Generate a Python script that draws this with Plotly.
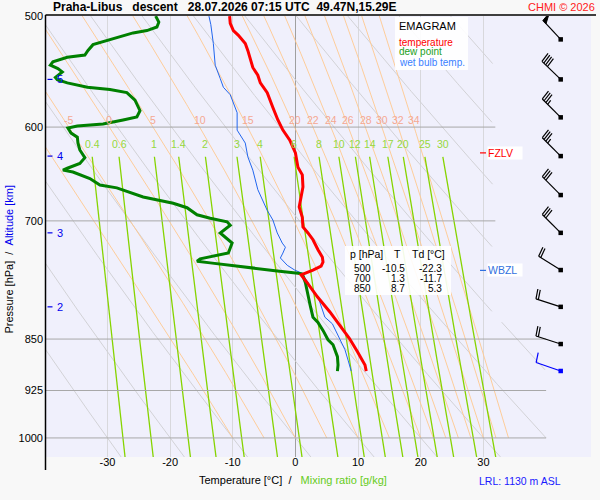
import numpy as np
import plotly.graph_objects as go

# ---------------- data ----------------
temp_p = [500, 506, 512, 516, 523, 529, 544, 551, 558, 567, 581, 593, 603, 613, 626, 641, 649, 662, 673, 684,
          696, 707, 714, 722, 734, 743, 749, 754, 759, 763, 765, 775, 793, 813, 831, 849, 868, 887, 896]
temp_t = [-10.5, -10.4, -9.9, -9.1, -8.0, -7.6, -6.8, -6.0, -5.6, -4.5, -3.6, -2.8, -2.0, -0.9, 0.0, 0.4, 1.1, 1.2, 0.9, 0.6,
          1.1, 1.2, 2.0, 2.8, 3.6, 4.3, 4.4, 4.1, 2.8, 1.5, 0.9, 1.9, 3.5, 5.5, 7.1, 8.6, 9.9, 11.1, 11.3]

dew_p = [500, 505, 509, 512, 514, 518, 522, 524, 529, 533, 535, 539, 542, 545, 548, 553, 555, 558, 562, 564,
         567, 574, 584, 590, 593, 597, 599, 601, 606, 610, 616, 623, 631, 637, 642, 644, 646, 653, 660, 663,
         673, 680, 685, 693, 697, 701, 705, 714, 726, 738, 745, 748, 750, 755, 760, 763, 764, 775, 788, 806,
         820, 827, 838, 851, 858, 875, 887, 896]
dew_t = [-22.3, -21.8, -22.1, -23.7, -25.9, -28.5, -30.7, -32.3, -33.1, -33.6, -36.4, -38.7, -39.1, -37.9, -37.2, -38.3, -38.0, -36.4, -33.2, -29.6,
         -26.9, -25.6, -24.8, -25.3, -27.5, -30.7, -34.8, -36.3, -35.8, -34.8, -34.7, -34.4, -33.6, -34.4, -36.4, -37.1, -35.5, -32.8, -31.2, -28.5,
         -24.3, -19.5, -17.3, -15.7, -13.6, -10.9, -10.4, -12.0, -10.1, -10.7, -15.2, -15.7, -13.6, -7.7, -2.9, 0.4, 1.1, 1.6, 1.9, 2.4,
         2.8, 3.6, 4.4, 5.2, 6.0, 6.7, 6.8, 6.7]

wb_p = [500, 507, 523, 542, 554, 562, 569, 577, 586, 603, 616, 630, 644, 665, 688, 699, 714, 726, 731, 738,
        744, 753, 759, 763, 780, 793, 820, 829, 851, 865, 880, 896]
wb_t = [-13.8, -13.5, -13.1, -12.8, -12.0, -11.5, -10.4, -9.9, -9.3, -9.3, -8.0, -7.6, -6.8, -6.0, -4.5, -3.6, -2.9, -2.1, -1.6, -2.0,
        -2.4, -1.3, -0.1, 1.1, 2.4, 3.6, 4.7, 5.9, 7.1, 7.9, 8.4, 8.9]

table_p = [500, 700, 850]
table_t = [-10.5, 1.3, 8.7]
table_td = [-22.3, -11.7, 5.3]

wind_p = [519.5, 554.8, 590.5, 629.3, 670.9, 713.9, 758.9, 806.2, 857.0, 895.8]
wind_dir = [317, 314, 315, 315, 315, 315, 302, 288, 288, 289]
wind_kt = [50, 40, 35, 35, 30, 30, 20, 20, 20, 10]

alt_km = [2, 3, 4, 5]
alt_p = [806.2, 713.9, 629.3, 554.8]

p_ticks = [500, 600, 700, 850, 925, 1000]
t_ticks = [-30, -20, -10, 0, 10, 20, 30]
theta_dry = [-30, -20, -10, 0, 10, 20, 30, 40, 50, 60, 70, 80, 90]
theta_w = [-10, -5, 0, 5, 10, 15, 20, 22, 24, 26, 28, 30, 32, 34]
mix_ratio = [0.4, 0.6, 1, 1.4, 2, 3, 4, 6, 8, 10, 12, 14, 17, 20, 25, 30]
mix_labels = ["0.4", "0.6", "1", "1.4", "2", "3", "4", "6", "8", "10", "12", "14", "17", "20", "25", "30"]
lrl_m = 1130

title_txt = "Praha-Libus   descent   28.07.2026 07:15 UTC  49.47N,15.29E"

# ---------------- layout geometry ----------------
W, H = 600, 500
ML, MR, MT, MB = 46, 9, 16, 43
PW, PH = W - ML - MR, H - MT - MB
P_TOP, P_BOT = 499.9, 1031.8
X_MIN = -39.8
PX_PER_DEG = 6.267
X_MAX = X_MIN + PW / PX_PER_DEG
PX_PER_LN = PH / np.log(P_BOT / P_TOP)
FONT = "Liberation Sans, Arial, sans-serif"


def XP(px):
    return (px - ML) / PW


def YP(py):
    return (H - MB - py) / PH


def t_limit(p):
    return np.where(p < 825, 31.5, 40.0)


def es_hpa(tc):
    return 6.112 * np.exp(17.67 * tc / (tc + 243.5))


def td_from_w(w, p):
    e = w * p / (622.0 + w)
    a = np.log(e / 6.112)
    return 243.5 * a / (17.67 - a)


def moist_dTdp(Tk, p):
    tc = Tk - 273.15
    es = es_hpa(tc)
    rs = 0.622 * es / (p - es)
    Lv, Rd, cp = 2.501e6, 287.04, 1005.7
    num = Rd * Tk + Lv * rs
    den = cp + Lv * Lv * rs * 0.622 / (Rd * Tk * Tk)
    return num / (den * p)


def moist_adiabat(tw):
    ps = np.arange(1000.0, 494.0, -2.0)
    Ts = [tw + 273.15]
    T = tw + 273.15
    for i in range(len(ps) - 1):
        p, h = ps[i], ps[i + 1] - ps[i]
        k1 = moist_dTdp(T, p)
        k2 = moist_dTdp(T + 0.5 * h * k1, p + 0.5 * h)
        k3 = moist_dTdp(T + 0.5 * h * k2, p + 0.5 * h)
        k4 = moist_dTdp(T + h * k3, p + h)
        T = T + h * (k1 + 2 * k2 + 2 * k3 + k4) / 6
        Ts.append(T)
    return ps, np.array(Ts) - 273.15


def clipped(x, p):
    x = np.array(x, dtype=float)
    ok = x <= t_limit(p)
    return [float(v) if o else None for v, o in zip(x, ok)], [float(v) for v in p]


fig = go.Figure()

# dry adiabats (grey)
pd_ = np.linspace(495, 1040, 300)
for th in theta_dry:
    t = (th + 273.15) * (pd_ / 1000.0) ** 0.2857 - 273.15
    xs, ys = clipped(t, pd_)
    fig.add_trace(go.Scatter(x=xs, y=ys, mode="lines", line=dict(color="#d2d2d6", width=1),
                             hoverinfo="skip", connectgaps=False))

# saturated adiabats (orange)
moist_lab = []
for tw in theta_w:
    ps, ts = moist_adiabat(tw)
    xs, ys = clipped(ts, ps)
    fig.add_trace(go.Scatter(x=xs, y=ys, mode="lines", line=dict(color="#ffc88e", width=0.9),
                             hoverinfo="skip", connectgaps=False))
    t600 = float(np.interp(600, ps[::-1], ts[::-1]))
    if X_MIN + 2 < t600 < 31:
        moist_lab.append((tw, t600))

# mixing ratio lines (green)
pm = np.linspace(630, 1040, 120)
mix_top = []
for w in mix_ratio:
    t = td_from_w(w, pm)
    fig.add_trace(go.Scatter(x=t, y=pm, mode="lines", line=dict(color="#86d400", width=1.3),
                             hoverinfo="skip"))
    mix_top.append(float(td_from_w(w, 630.0)))

# pressure lines
for p in p_ticks[1:]:
    xend = 31.9 if p < 825 else 40.0
    fig.add_trace(go.Scatter(x=[X_MIN, xend], y=[p, p], mode="lines",
                             line=dict(color="#a8a8a8", width=1), hoverinfo="skip"))

# profiles
fig.add_trace(go.Scatter(x=wb_t, y=wb_p, mode="lines", line=dict(color="#2266ee", width=1)))
fig.add_trace(go.Scatter(x=dew_t, y=dew_p, mode="lines", line=dict(color="#008000", width=3)))
fig.add_trace(go.Scatter(x=temp_t, y=temp_p, mode="lines", line=dict(color="#ff0000", width=3)))


# freezing levels from the profiles
def zero_level(ps, ts):
    for i in range(1, len(ts)):
        if ts[i - 1] < 0 <= ts[i]:
            f = (0 - ts[i - 1]) / (ts[i] - ts[i - 1])
            return float(np.exp(np.log(ps[i - 1]) + f * (np.log(ps[i]) - np.log(ps[i - 1]))))
    return None


fzlv = zero_level(temp_p, temp_t)
wbzl = zero_level(wb_p, wb_t)

# ---------------- wind barbs (x2 axis in pixel units) ----------------
BX = 560.7 - ML
STAFF = 26.0
lowest = max(wind_p)
for p0, d, kt in zip(wind_p, wind_dir, wind_kt):
    col = "#0000ff" if p0 == lowest else "#000000"
    r = np.radians(d)
    u = np.array([np.sin(r), -np.cos(r)])
    a = np.radians(83)
    f = np.array([u[0] * np.cos(a) - u[1] * np.sin(a), u[0] * np.sin(a) + u[1] * np.cos(a)])

    def P(v):
        return BX + v[0], p0 * np.exp(v[1] / PX_PER_LN)

    tip = STAFF * u
    xs, ys = [], []
    for v in (np.zeros(2), tip):
        x_, y_ = P(v)
        xs.append(x_)
        ys.append(y_)
    xs.append(None)
    ys.append(None)
    s = 0.0
    n_pen, rem = divmod(kt, 50)
    n_full, rem = divmod(rem, 10)
    n_half = rem // 5
    for _ in range(n_pen):
        A = tip - u * s
        B = A - u * 4.5
        C = A + f * 10
        tx, ty = zip(*[P(v) for v in (A, C, B, A)])
        fig.add_trace(go.Scatter(x=list(tx), y=list(ty), xaxis="x2", mode="lines", fill="toself",
                                 fillcolor=col, line=dict(color=col, width=1), hoverinfo="skip"))
        s += 5.5
    for _ in range(n_full):
        A = tip - u * s
        for v in (A, A + f * 10):
            x_, y_ = P(v)
            xs.append(x_)
            ys.append(y_)
        xs.append(None)
        ys.append(None)
        s += 2.5
    for _ in range(n_half):
        A = tip - u * s
        for v in (A, A + f * 5):
            x_, y_ = P(v)
            xs.append(x_)
            ys.append(y_)
        xs.append(None)
        ys.append(None)
    fig.add_trace(go.Scatter(x=xs, y=ys, xaxis="x2", mode="lines", line=dict(color=col, width=1.2),
                             hoverinfo="skip"))
    fig.add_trace(go.Scatter(x=[BX], y=[p0], xaxis="x2", mode="markers",
                             marker=dict(symbol="square", size=4.5, color=col), hoverinfo="skip"))

# altitude ticks
for km, p in zip(alt_km, alt_p):
    fig.add_trace(go.Scatter(x=[1.5, 6.5], y=[p, p], xaxis="x2", mode="lines",
                             line=dict(color="#0000ee", width=1.2), hoverinfo="skip"))

# level markers
for p, col in ((fzlv, "#ff0000"), (wbzl, "#3070e0")):
    fig.add_trace(go.Scatter(x=[480 - ML, 486 - ML], y=[p, p], xaxis="x2", mode="lines",
                             line=dict(color=col, width=1.2), hoverinfo="skip"))

ann = []
# altitude labels
for km, p in zip(alt_km, alt_p):
    ann.append(dict(x=13.5, xref="x2", y=np.log10(p), yref="y", text=str(km), showarrow=False,
                    font=dict(size=11, color="#0000ee"), xanchor="center", yanchor="middle"))
# level labels
for p, txt, col in ((fzlv, "FZLV", "#ff0000"), (wbzl, "WBZL", "#3070e0")):
    ann.append(dict(x=487 - ML, xref="x2", y=np.log10(p), yref="y", text=txt, showarrow=False,
                    font=dict(size=10.5, color=col), xanchor="left", yanchor="middle", align="left",
                    bgcolor="#ffffff", width=34, borderpad=0))
# moist adiabat labels
for tw, t6 in moist_lab:
    ann.append(dict(x=t6, y=np.log10(600), xref="x", yref="y", text=str(tw), showarrow=False,
                    yshift=7, font=dict(size=10.5, color="#f5a892"), xanchor="center", yanchor="middle"))
# mixing ratio labels
for lab, t in zip(mix_labels, mix_top):
    ann.append(dict(x=t, y=np.log10(630), xref="x", yref="y", text=lab, showarrow=False,
                    yshift=13, font=dict(size=10.5, color="#96d83c"), xanchor="center", yanchor="middle"))

# title & credits
ann.append(dict(x=XP(50.5), y=YP(7.5), xref="paper", yref="paper", text="<b>" + title_txt.replace(" ", "\u00a0") + "</b>",
                showarrow=False, xanchor="left", yanchor="middle", font=dict(size=12, color="#000000")))
ann.append(dict(x=XP(597), y=YP(7.5), xref="paper", yref="paper", text="CHMI © 2026",
                showarrow=False, xanchor="right", yanchor="middle", font=dict(size=11, color="#ff2020")))

# legend box texts
leg = [("EMAGRAM", "#000000", 11, 26), ("temperature", "#ff0000", 10, 42.3),
       ("dew point", "#1aa01a", 10, 51.9), ("wet bulb temp.", "#3a80ff", 10, 62.5)]
for txt, col, sz, py in leg:
    ann.append(dict(x=XP(397), y=YP(py), xref="paper", yref="paper", text=txt, showarrow=False,
                    xanchor="left", yanchor="middle", font=dict(size=sz, color=col)))

# table
ann.append(dict(x=XP(348), y=YP(253.5), xref="paper", yref="paper", text="p [hPa]", showarrow=False,
                xanchor="left", yanchor="middle", font=dict(size=10.5, color="#000")))
ann.append(dict(x=XP(397.5), y=YP(253.5), xref="paper", yref="paper", text="T", showarrow=False,
                xanchor="center", yanchor="middle", font=dict(size=10.5, color="#000")))
ann.append(dict(x=XP(447), y=YP(253.5), xref="paper", yref="paper", text="Td [°C]", showarrow=False,
                xanchor="right", yanchor="middle", font=dict(size=10.5, color="#000")))
for i, (p, t, td) in enumerate(zip(table_p, table_t, table_td)):
    py = 268.5 + 10 * i
    for txt, rx in ((str(p), 372.5), (f"{t:.1f}", 407), (f"{td:.1f}", 443.5)):
        ann.append(dict(x=XP(rx), y=YP(py), xref="paper", yref="paper", text=txt, showarrow=False,
                        xanchor="right", yanchor="middle", font=dict(size=10, color="#000")))

# axis titles
ann.append(dict(x=XP(197), y=YP(480), xref="paper", yref="paper",
                text="Temperature [°C]\u00a0\u00a0/\u00a0\u00a0\u00a0<span style='color:#66cc22'>Mixing ratio [g/kg]</span>",
                showarrow=False, xanchor="left", yanchor="middle", font=dict(size=11, color="#000")))
ann.append(dict(x=XP(476.5), y=YP(481), xref="paper", yref="paper", text=f"LRL: {lrl_m} m ASL",
                showarrow=False, xanchor="left", yanchor="middle", font=dict(size=10.5, color="#1a1aff")))
ann.append(dict(x=XP(8.5), y=YP(259), xref="paper", yref="paper", textangle=-90,
                text="Pressure [hPa]\u00a0\u00a0/\u00a0\u00a0<span style='color:#0000ee'>Altitude [km]</span>",
                showarrow=False, xanchor="center", yanchor="middle", font=dict(size=11, color="#000")))

shapes = [
    dict(type="rect", xref="paper", yref="paper", x0=XP(395), x1=XP(468), y0=YP(17), y1=YP(70),
         fillcolor="rgba(255,255,255,0.9)", line=dict(width=0), layer="above"),
    dict(type="rect", xref="paper", yref="paper", x0=XP(345), x1=XP(451), y0=YP(246), y1=YP(295),
         fillcolor="rgba(255,255,255,0.9)", line=dict(width=0), layer="above"),
    dict(type="line", xref="paper", yref="paper", x0=XP(45.5), x1=XP(596), y0=YP(15), y1=YP(15),
         line=dict(color="#000", width=1.5), layer="above"),
    dict(type="line", xref="paper", yref="paper", x0=XP(45.5), x1=XP(45.5), y0=YP(15), y1=YP(470),
         line=dict(color="#000", width=1.5), layer="above"),
]

fig.update_layout(
    width=W, height=H, margin=dict(l=ML, r=MR, t=MT, b=MB, pad=0),
    paper_bgcolor="#f8f8f8", plot_bgcolor="#f0f0fc", showlegend=False,
    font=dict(family=FONT, size=11, color="#000"),
    xaxis=dict(range=[X_MIN, X_MAX], tickvals=t_ticks, ticktext=[str(v) for v in t_ticks],
               showgrid=True, gridcolor="#d8d8dc", gridwidth=1, zeroline=True, zerolinecolor="#a0a0a0",
               zerolinewidth=1, showline=False, ticks="", tickfont=dict(size=11), ticklabelstandoff=-3),
    xaxis2=dict(range=[0, PW], overlaying="x", visible=False),
    yaxis=dict(type="log", range=[np.log10(P_BOT), np.log10(P_TOP)], tickvals=p_ticks,
               ticktext=[str(v) for v in p_ticks], showgrid=False, zeroline=False, showline=False,
               ticks="", tickfont=dict(size=11), ticklabelstandoff=2),
    annotations=ann, shapes=shapes,
)

fig.write_html("out.html", config={"displayModeBar": False},
               post_script="document.body.style.margin='0px';")
